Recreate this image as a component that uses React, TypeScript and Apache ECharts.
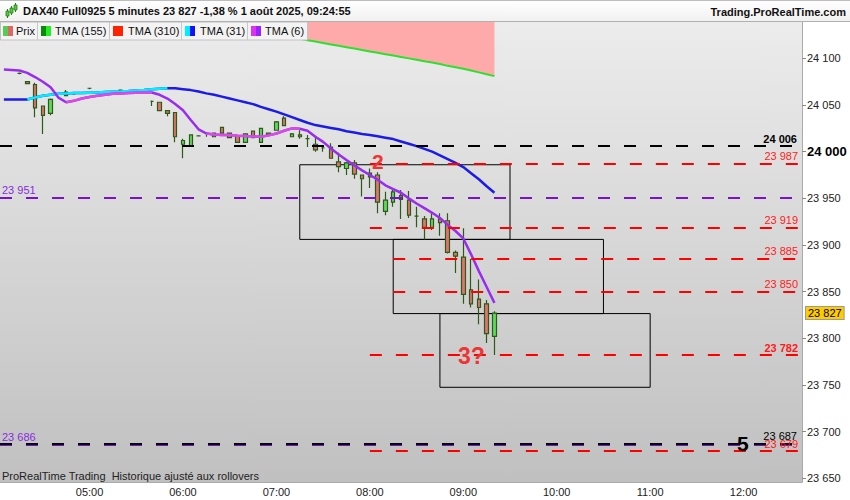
import React, { useEffect, useRef } from 'react';
import * as echarts from 'echarts';

const FONT = '"Liberation Sans", Arial, sans-serif';

const CATEGORIES = [
  '04:05','04:10','04:15','04:20','04:25','04:30','04:35','04:40','04:45','04:50','04:55',
  '05:00','05:05','05:10','05:15','05:20','05:25','05:30','05:35','05:40','05:45','05:50','05:55',
  '06:00','06:05','06:10','06:15','06:20','06:25','06:30','06:35','06:40','06:45','06:50','06:55',
  '07:00','07:05','07:10','07:15','07:20','07:25','07:30','07:35','07:40','07:45','07:50','07:55',
  '08:00','08:05','08:10','08:15','08:20','08:25','08:30','08:35','08:40','08:45','08:50','08:55',
  '09:00','09:05','09:10','09:15','09:20','09:25','09:30','09:35','09:40','09:45','09:50','09:55',
  '10:00','10:05','10:10','10:15','10:20','10:25','10:30','10:35','10:40','10:45','10:50','10:55',
  '11:00','11:05','11:10','11:15','11:20','11:25','11:30','11:35','11:40','11:45','11:50','11:55',
  '12:00','12:05','12:10','12:15','12:20','12:25','12:30','12:35',
];

// time, open, close, low, high
const CANDLES: [string, number, number, number, number][] = [
  ['04:15', 24084, 24084, 24083, 24085],
  ['04:20', 24075, 24073, 24073, 24075],
  ['04:25', 24072, 24047, 24037, 24074],
  ['04:30', 24049, 24039, 24019, 24049],
  ['04:35', 24041, 24056, 24039, 24057],
  ['04:45', 24060, 24064, 24060, 24066],
  ['04:50', 24062, 24062, 24061, 24062],
  ['05:00', 24068, 24068, 24067, 24068],
  ['05:20', 24066, 24066, 24065, 24066],
  ['05:40', 24054, 24054, 24049, 24055],
  ['05:45', 24053, 24044, 24044, 24053],
  ['05:50', 24044, 24041, 24038, 24044],
  ['05:55', 24042, 24016, 24010, 24042],
  ['06:00', 24008, 24012, 23993, 24014],
  ['06:05', 24006, 24018, 24006, 24018],
  ['06:10', 24017, 24017, 24017, 24017],
  ['06:15', 24020, 24020, 24016, 24020],
  ['06:20', 24016, 24020, 24016, 24020],
  ['06:25', 24026, 24020, 24020, 24026],
  ['06:30', 24020, 24015, 24015, 24020],
  ['06:35', 24017, 24010, 24010, 24017],
  ['06:40', 24010, 24019, 24010, 24019],
  ['06:45', 24022, 24015, 24015, 24022],
  ['06:50', 24010, 24025, 24010, 24025],
  ['06:55', 24018, 24020, 24018, 24020],
  ['07:00', 24023, 24032, 24023, 24033],
  ['07:05', 24036, 24028, 24028, 24038],
  ['07:10', 24016, 24019, 24016, 24020],
  ['07:15', 24018, 24016, 24014, 24023],
  ['07:20', 24014, 24014, 24005, 24018],
  ['07:25', 24008, 24002, 24000, 24017],
  ['07:30', 24004, 24004, 24000, 24007],
  ['07:35', 24005, 23993, 23993, 24009],
  ['07:40', 23989, 23984, 23978, 23999],
  ['07:45', 23982, 23988, 23975, 23989],
  ['07:50', 23988, 23976, 23971, 23991],
  ['07:55', 23975, 23971, 23952, 23975],
  ['08:00', 23977, 23973, 23961, 23982],
  ['08:05', 23975, 23946, 23934, 23978],
  ['08:10', 23936, 23948, 23932, 23957],
  ['08:15', 23946, 23957, 23941, 23961],
  ['08:20', 23953, 23949, 23928, 23959],
  ['08:25', 23948, 23932, 23929, 23958],
  ['08:30', 23931, 23931, 23919, 23941],
  ['08:35', 23928, 23919, 23906, 23931],
  ['08:40', 23919, 23928, 23916, 23934],
  ['08:45', 23928, 23924, 23910, 23934],
  ['08:50', 23926, 23892, 23891, 23934],
  ['08:55', 23892, 23888, 23870, 23894],
  ['09:00', 23887, 23847, 23837, 23918],
  ['09:05', 23852, 23837, 23833, 23885],
  ['09:10', 23842, 23833, 23815, 23863],
  ['09:15', 23837, 23805, 23795, 23841],
  ['09:20', 23802, 23827, 23782, 23829],
];

// TMA (31), from 04:05
const TMA31 = [
  24056, 24056, 24056, 24056, 24058, 24060, 24061, 24062, 24062.5, 24063,
  24063, 24063.3, 24063.5, 24064, 24064.3, 24064.6, 24065, 24065.5, 24066, 24067,
  24067.5, 24068, 24068, 24067, 24066, 24064.5, 24062.5, 24061, 24059, 24057,
  24055, 24053, 24051, 24048, 24045.5, 24043, 24040, 24037, 24034, 24031,
  24028.5, 24027, 24025.5, 24024, 24022, 24020.5, 24019, 24018, 24016.5, 24015,
  24013.5, 24011, 24008.5, 24006, 24003, 24000, 23996, 23992, 23988, 23983.5,
  23977, 23970.5, 23963, 23956,
];
const TMA31_RISING: [number, number][] = [[3, 21]];

// TMA (6), from 04:05
const TMA6 = [
  24088, 24087.5, 24087, 24084.5, 24080, 24075, 24069, 24058, 24053, 24054.5,
  24057, 24058.7, 24060, 24061, 24062, 24062.5, 24063, 24063.2, 24063.4, 24063.4,
  24061, 24057, 24051, 24044.5, 24034, 24024, 24019.5, 24018.5, 24018, 24017.8,
  24017.2, 24016.8, 24016.3, 24016, 24017.5, 24019.5, 24022.5, 24025, 24024.5, 24022.5,
  24016, 24010.5, 24003.5, 23997, 23991, 23985.5, 23980, 23975, 23970, 23964,
  23960, 23956, 23950, 23944.5, 23939.5, 23934.5, 23929, 23921.5, 23915, 23907,
  23890, 23872, 23855, 23838,
];
const TMA6_RISING: [number, number][] = [[8, 19], [26, 38]];

// TMA (155), from 06:35
const TMA155_START = '06:35';
const TMA155 = [
  24134, 24132.5, 24131, 24129.5, 24128, 24126, 24124.5, 24123, 24121, 24119.5,
  24118, 24116.5, 24115, 24113.5, 24112, 24110.5, 24109, 24107.5, 24106, 24104.5,
  24103, 24101.5, 24100, 24098.5, 24097, 24095.5, 24094, 24092, 24090.5, 24089,
  24087, 24085, 24083, 24081,
];

const BLACK_LEVELS = [24006, 23687];
const PURPLE_LEVELS = [23951, 23686];
const RED_LEVELS = [23987, 23919, 23885, 23850, 23782, 23679];
const RED_LEVEL_STARTS = ['08:00', '08:00', '08:15', '08:15', '08:00', '08:00'];
const LAST_PRICE = 23827;

// [from time, to time, top price, bottom price]
const BOXES: [string, string, number, number][] = [
  ['07:15', '09:30', 23986, 23906],
  ['08:15', '10:30', 23906, 23826.5],
  ['08:45', '11:00', 23826.5, 23747.5],
];

const Y_MIN = 23646;
const Y_MAX = 24139;

const fmt = (v: number) => {
  const s = String(Math.round(v));
  return s.slice(0, -3) + ' ' + s.slice(-3);
};
const inRanges = (i: number, r: [number, number][]) => r.some(([a, b]) => i >= a && i <= b);

export default function App() {
  const ref = useRef<HTMLDivElement>(null);
  useEffect(() => {
    document.body.style.margin = '0';
    const chart = echarts.init(ref.current!, null, { renderer: 'svg' });

    const cmap = new Map(CANDLES.map((c) => [c[0], c]));
    const candleData = CATEGORIES.map((t) => {
      const c = cmap.get(t);
      return c ? [c[1], c[2], c[3], c[4]] : ['-', '-', '-', '-'];
    });
    const start155 = CATEGORIES.indexOf(TMA155_START);
    const tma155Data = TMA155.map((v, k) => [CATEGORIES[start155 + k], v]);

    const dash = [12, 14];
    const labelBase = { show: true, fontFamily: FONT, fontSize: 11 };
    const markLines: any[] = [];
    BLACK_LEVELS.forEach((v, k) => {
      markLines.push({
        yAxis: v,
        lineStyle: { color: '#000', width: 2, type: dash },
        label: { ...labelBase, formatter: fmt(v), position: 'insideEndTop', color: '#000', fontWeight: k === 0 ? 'bold' : 'normal', distance: [5, 2] },
      });
    });
    PURPLE_LEVELS.forEach((v) => {
      markLines.push({
        yAxis: v,
        lineStyle: { color: '#7d10d0', width: 2, type: dash },
        label: { ...labelBase, formatter: fmt(v), position: 'insideStartTop', color: '#8a2be2', distance: [2, 2] },
      });
    });
    // re-draw black 23687 over purple
    markLines.push({
      yAxis: BLACK_LEVELS[1] ,
      lineStyle: { color: '#000', width: 2, type: dash },
      label: { show: false },
    });
    RED_LEVELS.forEach((v, k) => {
      markLines.push([
        {
          coord: [RED_LEVEL_STARTS[k], v],
          lineStyle: { color: '#ff0000', width: 2, type: dash },
          label: { ...labelBase, formatter: fmt(v), position: 'insideEndTop', color: '#ff1a1a', fontWeight: v === 23782 ? 'bold' : 'normal', distance: [0, 2] },
        },
        { coord: [CATEGORIES[CATEGORIES.length - 1], v] },
      ]);
    });
    markLines.push({
      yAxis: LAST_PRICE,
      lineStyle: { color: 'rgba(0,0,0,0)', width: 0 },
      label: {
        ...labelBase, formatter: fmt(LAST_PRICE), position: 'end', color: '#000',
        backgroundColor: '#ffcc00', borderColor: '#9a9a9a', borderWidth: 1, padding: [1, 2, 0, 2], distance: 4,
      },
    });

    const lineSeries = (data: any[], color: string, width = 2.5, z = 3) => ({
      type: 'line', data, showSymbol: false, symbol: 'none', silent: true, z,
      lineStyle: { color, width }, connectNulls: false,
    });

    const option: any = {
      animation: false,
      textStyle: { fontFamily: FONT },
      grid: {
        left: 0, right: 48, top: 22, bottom: 18, show: true, borderWidth: 0,
        backgroundColor: new echarts.graphic.LinearGradient(0, 0, 0, 1, [
          { offset: 0, color: '#ececec' },
          { offset: 1, color: '#c0c0c0' },
        ]),
      },
      xAxis: {
        type: 'category', data: CATEGORIES, boundaryGap: true,
        axisLine: { show: true, lineStyle: { color: '#aaa' } },
        axisTick: { show: false },
        splitLine: { show: false },
        axisLabel: {
          interval: (_i: number, v: string) => v.endsWith(':00'),
          color: '#222', fontSize: 11, margin: 4, fontFamily: FONT,
        },
      },
      yAxis: {
        type: 'value', position: 'right', min: Y_MIN, max: Y_MAX, splitNumber: 10, scale: true,
        axisLine: { show: true, lineStyle: { color: '#aaa' } },
        axisTick: { show: true, length: 4, lineStyle: { color: '#888' } },
        splitLine: { show: false },
        axisLabel: {
          showMinLabel: false, showMaxLabel: false, color: '#222', fontSize: 11, margin: 5, fontFamily: FONT,
          formatter: (v: number) => {
            if (Math.round(v) % 50 !== 0) return '';
            return v === 24000 ? '{b|' + fmt(v) + '}' : fmt(v);
          },
          rich: { b: { fontWeight: 'bold', fontSize: 13, color: '#000', fontFamily: FONT } },
        },
      },
      series: [
        {
          type: 'line', data: tma155Data, showSymbol: false, symbol: 'none', silent: true, z: 1,
          lineStyle: { color: '#2ee02e', width: 2 },
          areaStyle: { origin: 'end', color: '#ffaaaa', opacity: 1 },
        },
        {
          type: 'candlestick', data: candleData, barWidth: 4, silent: true, z: 2,
          itemStyle: { color: '#5fd85f', color0: '#e0736b', borderColor: '#2d5a19', borderColor0: '#2d5a19', borderWidth: 1.2 },
          markArea: {
            silent: true,
            itemStyle: { color: 'rgba(0,0,0,0)', borderColor: '#000', borderWidth: 1 },
            data: BOXES.map(([a, b, top, bottom]) => [{ coord: [a, top] }, { coord: [b, bottom] }]),
          },
          markLine: { silent: true, symbol: ['none', 'none'], animation: false, data: markLines },
        },
        lineSeries(TMA31, '#1c1ce6'),
        lineSeries(TMA31.map((v, i) => (inRanges(i, TMA31_RISING) ? v : '-')), '#00eeff'),
        lineSeries(TMA6, '#9a2cf0'),
        lineSeries(TMA6.map((v, i) => (inRanges(i, TMA6_RISING) ? v : '-')), '#d94ae9'),
      ],
      graphic: [
        // header
        {
          type: 'rect', z: 100, shape: { x: 0, y: 0, width: 850, height: 21 },
          style: { fill: new echarts.graphic.LinearGradient(0, 0, 0, 1, [{ offset: 0, color: '#ffffff' }, { offset: 1, color: '#f1f1f1' }]) },
        },
        { type: 'line', z: 101, shape: { x1: 0, y1: 0.5, x2: 850, y2: 0.5 }, style: { stroke: '#bdbdbd', lineWidth: 1 } },
        { type: 'line', z: 101, shape: { x1: 0, y1: 21.5, x2: 850, y2: 21.5 }, style: { stroke: '#b0b0b0', lineWidth: 1 } },
        { type: 'line', z: 101, shape: { x1: 7.5, y1: 9, x2: 7.5, y2: 18 }, style: { stroke: '#2d7a19', lineWidth: 1 } },
        { type: 'rect', z: 102, shape: { x: 6, y: 11, width: 3, height: 5 }, style: { fill: '#4ccf3c', stroke: '#2d7a19', lineWidth: 0.8 } },
        { type: 'line', z: 101, shape: { x1: 11.5, y1: 6, x2: 11.5, y2: 15 }, style: { stroke: '#2d7a19', lineWidth: 1 } },
        { type: 'rect', z: 102, shape: { x: 10, y: 8, width: 3, height: 5 }, style: { fill: '#4ccf3c', stroke: '#2d7a19', lineWidth: 0.8 } },
        { type: 'line', z: 101, shape: { x1: 15.5, y1: 3, x2: 15.5, y2: 12 }, style: { stroke: '#2d7a19', lineWidth: 1 } },
        { type: 'rect', z: 102, shape: { x: 14, y: 5, width: 3, height: 5 }, style: { fill: '#4ccf3c', stroke: '#2d7a19', lineWidth: 0.8 } },
        {
          type: 'text', z: 102, x: 23, y: 11,
          style: { text: 'DAX40 Full0925 5 minutes 23 827 -1,38 % 1 août 2025, 09:24:55', font: 'bold 11px ' + FONT, fill: '#111', textVerticalAlign: 'middle' },
        },
        {
          type: 'text', z: 102, x: 846, y: 12,
          style: { text: 'Trading.ProRealTime.com', font: 'bold 11px ' + FONT, fill: '#111', textAlign: 'right', textVerticalAlign: 'middle' },
        },
        // legend bar
        { type: 'rect', z: 100, shape: { x: 0.5, y: 22, width: 307, height: 18 }, style: { fill: '#f3f3f3', stroke: '#c2c2c2', lineWidth: 1 } },
        ...[37.5, 109.5, 181.5, 247.5].map((x) => ({
          type: 'line', z: 101, shape: { x1: x, y1: 22, x2: x, y2: 40 }, style: { stroke: '#c8c8c8', lineWidth: 1 },
        })),
        ...[
          [3, '#55cc55', '#e06666', 'Prix', 16],
          [41, '#0a8a0a', '#22ee22', 'TMA (155)', 55],
          [113, '#ff2200', '#ff2200', 'TMA (310)', 128],
          [185, '#00eeff', '#1010ff', 'TMA (31)', 200],
          [251, '#dd33ee', '#9922ff', 'TMA (6)', 265],
        ].flatMap(([x, c1, c2, label, tx]: any) => [
          { type: 'rect', z: 102, shape: { x, y: 26, width: 5, height: 10 }, style: { fill: c1 } },
          { type: 'rect', z: 102, shape: { x: x + 5, y: 26, width: 5, height: 10 }, style: { fill: c2 } },
          { type: 'text', z: 102, x: tx, y: 31, style: { text: label, font: '11px ' + FONT, fill: '#111', textVerticalAlign: 'middle' } },
        ]),
        // annotations
        { type: 'text', z: 90, x: 372, y: 161, style: { text: '2', font: 'bold 21px ' + FONT, fill: '#ee3535', textVerticalAlign: 'middle' } },
        { type: 'text', z: 90, x: 458, y: 356, style: { text: '3?', font: 'bold 23px ' + FONT, fill: '#ee3535', textVerticalAlign: 'middle' } },
        { type: 'text', z: 90, x: 737, y: 443, style: { text: '5', font: 'bold 21px ' + FONT, fill: '#000', textVerticalAlign: 'middle' } },
        {
          type: 'text', z: 90, x: 2, y: 476,
          style: { text: 'ProRealTime Trading  Historique ajusté aux rollovers', font: '11px ' + FONT, fill: '#222', textVerticalAlign: 'middle' },
        },
      ],
    };

    chart.setOption(option);
    return () => chart.dispose();
  }, []);
  return <div ref={ref} style={{ width: 850, height: 500 }} />;
}
